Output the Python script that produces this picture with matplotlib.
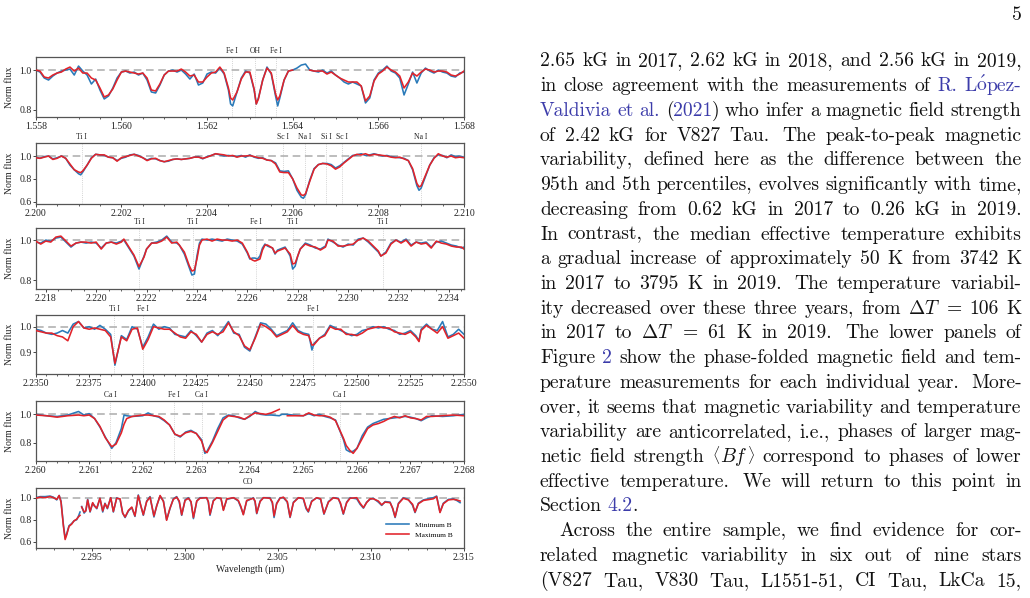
import re
import numpy as np
import matplotlib
matplotlib.use('Agg')
import matplotlib.pyplot as plt
from matplotlib.ticker import MultipleLocator, AutoMinorLocator, FormatStrFormatter
import matplotlib.transforms as mtransforms

nan = np.nan

# ---------------- panel 1 : 1.558 - 1.568 um ----------------
p1_wl = [
    1.5580, 1.5581, 1.5582, 1.5583, 1.5584, 1.5585, 1.5586, 1.5587, 1.5588, 1.5589,
    1.5590, 1.5591, 1.5592, 1.5593, 1.5594, 1.5595, 1.5596, 1.5597, 1.5598, 1.5599,
    1.5600, 1.5601, 1.5602, 1.5603, 1.5604, 1.5605, 1.5606, 1.5607, 1.5608, 1.5609,
    1.5610, 1.5611, 1.5612, 1.5613, 1.5614, 1.5615, 1.5616, 1.5617, 1.5618, 1.5619,
    1.5620, 1.5621, 1.5622, 1.5623, 1.5624, 1.5625, 1.56255, 1.5626, 1.5627, 1.5628,
    1.5629, 1.5630, 1.5631, 1.56315, 1.5632, 1.5633, 1.5634, 1.5635, 1.5636, 1.56365,
    1.5637, 1.5638, 1.5639, 1.5640, 1.5641, 1.5642, 1.5643, 1.5644, 1.5645, 1.5646,
    1.5647, 1.5648, 1.5649, 1.5650, 1.5651, 1.5652, 1.5653, 1.5654, 1.5655, 1.5656,
    1.5657, 1.5658, 1.5659, 1.5660, 1.5661, 1.5662, 1.5663, 1.5664, 1.5665, 1.5666,
    1.5667, 1.5668, 1.5669, 1.5670, 1.5671, 1.5672, 1.5673, 1.5674, 1.5675, 1.5676,
    1.5677, 1.5678, 1.5679, 1.5680]
p1_blue = [
    1.000, 0.990, 0.960, 0.950, 0.970, 0.985, 0.995, 1.000, 1.005, 0.975,
    1.020, 0.995, 0.975, 0.930, 0.955, 0.900, 0.855, 0.870, 0.910, 0.960,
    0.990, 0.995, 0.985, 0.990, 0.975, 0.985, 0.950, 0.890, 0.885, 0.925,
    0.975, 0.995, 1.000, 0.990, 1.000, 0.980, 0.955, 0.980, 0.925, 0.935,
    0.980, 0.990, 0.985, 1.010, 0.980, 0.900, 0.830, 0.820, 0.890, 0.960,
    0.995, 0.985, 0.900, 0.830, 0.860, 0.950, 1.015, 0.980, 0.870, 0.820,
    0.860, 0.950, 0.995, 1.000, 1.010, 1.025, 1.030, 1.000, 0.995, 0.990,
    1.000, 0.985, 0.995, 0.975, 0.960, 0.940, 0.930, 0.940, 0.930, 0.920,
    0.835, 0.860, 0.950, 0.985, 1.000, 1.020, 0.995, 0.985, 0.960, 0.875,
    0.930, 0.990, 0.935, 0.985, 1.010, 0.995, 0.985, 1.000, 0.990, 0.985,
    0.970, 0.965, 0.985, 0.990]
p1_red = [
    1.000, 0.995, 0.965, 0.960, 0.975, 0.985, 0.990, 1.005, 1.015, 0.995,
    1.010, 0.985, 0.985, 0.960, 0.950, 0.910, 0.865, 0.875, 0.905, 0.950,
    0.990, 0.995, 0.990, 0.985, 0.980, 0.985, 0.960, 0.900, 0.895, 0.930,
    0.975, 0.995, 0.995, 0.995, 1.005, 0.990, 0.970, 0.975, 0.940, 0.940,
    0.965, 0.985, 0.990, 1.015, 0.985, 0.910, 0.860, 0.850, 0.890, 0.955,
    0.990, 0.990, 0.905, 0.830, 0.855, 0.950, 1.010, 0.985, 0.880, 0.850,
    0.870, 0.950, 0.995, 1.000, nan, nan, nan, 1.000, 0.995, 0.995,
    0.995, 0.980, 0.990, 0.975, 0.960, 0.950, 0.940, 0.940, 0.940, 0.920,
    0.845, 0.870, 0.945, 0.980, 0.995, 1.015, 1.000, 0.990, 0.970, 0.910,
    0.940, 0.985, 0.970, 0.990, 1.005, 1.000, 0.990, 0.995, 0.995, 0.990,
    0.975, 0.970, 0.980, 0.995]
p1_line_wl = [1.56258, 1.56313, 1.56362]
p1_line_names = ['Fe I', 'OH', 'Fe I']

# ---------------- panel 2 : 2.200 - 2.210 um ----------------
p2_wl = [
    2.2000, 2.2001, 2.2002, 2.2003, 2.2004, 2.2005, 2.2006, 2.2007, 2.2008, 2.2009,
    2.2010, 2.20105, 2.2011, 2.2012, 2.2013, 2.2014, 2.2015, 2.2016, 2.2017, 2.2018,
    2.2019, 2.2020, 2.2021, 2.2022, 2.2023, 2.2024, 2.2025, 2.2026, 2.2027, 2.2028,
    2.2029, 2.2030, 2.2031, 2.2032, 2.2033, 2.2034, 2.2035, 2.2036, 2.2037, 2.2038,
    2.2039, 2.2040, 2.2041, 2.2042, 2.2043, 2.2044, 2.2045, 2.2046, 2.2047, 2.2048,
    2.2049, 2.2050, 2.2051, 2.2052, 2.2053, 2.2054, 2.2055, 2.2056, 2.2057, 2.2058,
    2.2059, 2.2060, 2.2061, 2.2062, 2.20625, 2.2063, 2.2064, 2.2065, 2.2066, 2.2067,
    2.2068, 2.2069, 2.2070, 2.2071, 2.2072, 2.2073, 2.2074, 2.2075, 2.2076, 2.2077,
    2.2078, 2.2079, 2.2080, 2.2081, 2.2082, 2.2083, 2.2084, 2.2085, 2.2086, 2.2087,
    2.2088, 2.2089, 2.20895, 2.2090, 2.2091, 2.2092, 2.2093, 2.2094, 2.2095, 2.2096,
    2.2097, 2.2098, 2.2099, 2.2100]
p2_blue = [
    0.990, 0.980, 0.995, 1.000, 0.975, 0.985, 1.000, 0.980, 0.920, 0.880,
    0.845, 0.835, 0.860, 0.920, 0.985, 1.015, 1.010, 1.005, 0.990, 0.985,
    0.960, 0.980, 0.990, 1.010, 1.015, 1.005, 0.985, 0.965, 0.980, 0.975,
    0.960, 0.950, 0.955, 0.970, 0.975, 0.970, 0.975, 0.980, 0.990, 0.995,
    0.975, 0.995, 1.005, 1.020, 1.010, 1.000, 1.005, 1.000, 0.995, 1.005,
    0.990, 1.010, 0.990, 0.980, 0.985, 0.965, 0.960, 0.940, 0.870, 0.865,
    0.870, 0.800, 0.700, 0.640, 0.630, 0.660, 0.790, 0.890, 0.925, 0.935,
    0.935, 0.925, 0.895, 0.915, 0.945, 0.975, 1.005, 1.010, 1.020, 1.005,
    1.010, 1.020, 1.010, 1.000, 1.005, 0.995, 0.990, 0.985, 0.980, 0.960,
    0.880, 0.740, 0.700, 0.720, 0.820, 0.920, 0.985, 1.010, 1.005, 0.985,
    1.010, 0.995, 1.000, 0.990]
p2_red = [
    0.985, 0.980, 0.990, 1.000, 0.970, 0.980, 1.000, 0.980, 0.930, 0.880,
    0.860, 0.855, 0.870, 0.920, 0.980, 1.015, 1.010, 1.010, 0.990, 0.985,
    0.955, 0.985, 0.995, 1.005, 1.015, 1.000, 0.985, 0.960, 0.975, 0.980,
    0.960, 0.950, 0.960, 0.970, 0.975, 0.970, 0.975, 0.980, 0.990, 0.990,
    0.980, 0.990, 1.005, 1.020, 1.015, 1.010, 1.000, 1.005, 0.990, 1.000,
    1.000, 1.005, 0.995, 0.985, 0.980, 0.965, 0.960, 0.930, 0.860, 0.855,
    0.855, 0.800, 0.720, 0.660, 0.655, 0.670, 0.780, 0.885, 0.925, 0.935,
    0.930, 0.915, 0.885, 0.905, 0.940, 0.970, 1.000, 1.015, 1.010, 1.020,
    1.005, 1.015, 1.010, 1.005, 1.000, 0.990, 0.985, 0.990, 0.975, 0.960,
    0.890, 0.760, 0.730, 0.740, 0.830, 0.920, 0.980, 1.020, 1.000, 0.990,
    1.000, 0.985, 0.990, 0.985]
p2_line_wl = [2.20107, 2.20578, 2.20629, 2.20678, 2.20714, 2.20899]
p2_line_names = ['Ti I', 'Sc I', 'Na I', 'Si I', 'Sc I', 'Na I']

# ---------------- panel 3 : 2.2176 - 2.2346 um ----------------
p3_wl = [
    2.2176, 2.2178, 2.2180, 2.2182, 2.2184, 2.2186, 2.2188, 2.2190, 2.2192, 2.2194,
    2.2196, 2.2198, 2.2200, 2.2202, 2.2204, 2.2206, 2.2208, 2.2210, 2.2211, 2.2213,
    2.2215, 2.2217, 2.2219, 2.2220, 2.2222, 2.2224, 2.2226, 2.2228, 2.2230, 2.2232,
    2.2233, 2.2235, 2.2237, 2.2238, 2.2239, 2.2240, 2.2241, 2.2242, 2.2244, 2.2246,
    2.2248, 2.2250, 2.2252, 2.2254, 2.2256, 2.2258, 2.2260, 2.2261, 2.2262, 2.2263,
    2.2264, 2.2265, 2.2266, 2.2267, 2.2268, 2.2270, 2.2271, 2.2272, 2.2274, 2.2275,
    2.2277, 2.2278, 2.2279, 2.2280, 2.2281, 2.2283, 2.2285, 2.2287, 2.2289, 2.2291,
    2.2292, 2.2294, 2.2296, 2.2298, 2.2300, 2.2302, 2.2304, 2.2306, 2.2308, 2.2310,
    2.2312, 2.2313, 2.2315, 2.2317, 2.2319, 2.2321, 2.2323, 2.2325, 2.2327, 2.2329,
    2.2331, 2.2333, 2.2335, 2.2337, 2.2339, 2.2341, 2.2343, 2.2345, 2.2346]
p3_blue = [
    0.990, 0.985, 1.000, 0.995, 1.010, 1.015, 0.990, 0.965, 0.985, 0.990,
    0.985, 0.990, 0.985, 0.960, 0.985, 0.990, 0.985, 0.995, 1.000, 0.960,
    0.920, 0.855, 0.920, 0.955, 0.985, 0.990, 1.000, 1.020, 0.990, 0.985,
    0.975, 0.930, 0.860, 0.825, 0.830, 0.920, 0.985, 1.005, 1.000, 1.005,
    1.000, 0.995, 1.005, 1.000, 0.995, 0.980, 0.935, 0.905, 0.910, 0.910,
    0.905, 0.920, 0.960, 0.980, 0.970, 0.960, 0.930, 0.950, 0.960, 0.965,
    0.920, 0.855, 0.870, 0.920, 0.955, 0.985, 0.975, 0.960, 0.955, 0.970,
    1.005, 0.990, 0.975, 0.965, 0.980, 0.975, 1.005, 1.010, 0.990, 0.965,
    0.940, 0.920, 0.940, 0.985, 1.000, 0.990, 1.005, 0.975, 0.990, 0.985,
    0.990, 0.965, 0.990, 0.995, 0.985, 0.975, 0.970, 0.960, 0.965]
p3_red = [
    0.995, 0.980, 0.995, 0.990, 1.015, 1.020, 0.995, 0.970, 0.985, 0.990,
    0.990, 0.985, 0.990, 0.955, 0.985, 0.990, 0.980, 0.990, 1.005, 0.965,
    0.925, 0.867, 0.915, 0.955, 0.985, 0.985, 0.995, 1.015, 0.985, 0.990,
    0.975, 0.940, 0.870, 0.845, 0.850, 0.905, 0.975, 1.000, 1.005, 0.995,
    1.005, 1.000, 1.000, 0.995, 1.000, 0.985, 0.940, 0.910, 0.900, 0.895,
    0.900, 0.905, 0.950, 0.975, 0.975, 0.960, 0.935, 0.945, 0.955, 0.960,
    0.930, 0.880, 0.885, 0.920, 0.955, 0.980, 0.970, 0.965, 0.950, 0.965,
    1.000, 0.995, 0.970, 0.970, 0.975, 0.980, 1.000, 1.010, 0.995, 0.970,
    0.945, 0.920, 0.935, 0.980, 1.000, 0.985, 1.000, 0.970, 0.990, 0.980,
    0.985, 0.960, 0.995, 0.985, 0.980, 0.970, 0.965, 0.965, 0.955]
p3_line_wl = [2.22170, 2.22383, 2.22634, 2.22781, 2.23137]
p3_line_names = ['Ti I', 'Ti I', 'Fe I', 'Ti I', 'Ti I']

# ---------------- panel 4 : 2.235 - 2.255 um ----------------
p4_wl = [
    2.23500, 2.23525, 2.23550, 2.23575, 2.23600, 2.23625, 2.23650, 2.23675, 2.23700, 2.23725,
    2.23750, 2.23775, 2.23800, 2.23825, 2.23850, 2.23870, 2.23900, 2.23925, 2.23950, 2.23975,
    2.24000, 2.24025, 2.24050, 2.24075, 2.24100, 2.24125, 2.24150, 2.24175, 2.24200, 2.24225,
    2.24250, 2.24275, 2.24300, 2.24325, 2.24350, 2.24375, 2.24400, 2.24425, 2.24450, 2.24475,
    2.24500, 2.24525, 2.24550, 2.24575, 2.24600, 2.24625, 2.24650, 2.24675, 2.24700, 2.24725,
    2.24750, 2.24775, 2.24790, 2.24800, 2.24825, 2.24850, 2.24875, 2.24900, 2.24925, 2.24950,
    2.24975, 2.25000, 2.25025, 2.25050, 2.25075, 2.25100, 2.25125, 2.25150, 2.25175, 2.25200,
    2.25225, 2.25250, 2.25275, 2.25290, 2.25300, 2.25325, 2.25350, 2.25375, 2.25400, 2.25425,
    2.25450, 2.25475, 2.25500]
p4_blue = [
    0.990, 0.985, 0.975, 0.970, 0.975, 0.985, 0.975, 1.010, 1.020, 0.995,
    1.000, 0.990, 1.005, 0.990, 0.970, 0.850, 0.965, 0.950, 1.000, 0.990,
    0.920, 0.960, 1.010, 0.990, 1.000, 0.995, 0.970, 0.965, 0.960, 0.985,
    0.965, 0.940, 0.975, 0.985, 0.965, 0.990, 1.020, 0.975, 0.970, 0.920,
    0.905, 0.960, 1.015, 1.010, 0.990, 0.965, 0.975, 0.985, 1.015, 0.985,
    0.975, 0.970, 0.909, 0.935, 0.955, 0.970, 1.005, 0.995, 0.985, 0.975,
    0.965, 0.970, 0.985, 0.990, 1.000, 0.995, 1.000, 0.990, 0.985, 0.970,
    0.975, 0.985, 0.965, 0.945, 0.990, 1.010, 0.990, 0.985, 1.020, 0.960,
    0.970, 0.990, 0.970]
p4_red = [
    0.985, 0.980, 0.975, 0.975, 0.965, 0.960, 0.945, 1.000, 1.020, 0.995,
    0.990, 0.995, 0.990, 0.985, 0.960, 0.857, 0.960, 0.945, 0.990, 0.995,
    0.912, 0.950, 1.000, 0.995, 0.990, 0.990, 0.975, 0.960, 0.955, 0.980,
    0.970, 0.940, 0.970, 0.980, 0.970, 0.980, 1.015, 0.980, 0.965, 0.925,
    0.910, 0.955, 1.010, 1.000, 0.985, 0.960, 0.970, 0.980, 1.005, 0.980,
    0.970, 0.965, 0.928, 0.930, 0.955, 0.965, 1.000, 0.990, 0.990, 0.970,
    0.970, 0.965, 0.975, 0.990, 0.995, 1.000, 0.995, 0.995, 0.980, 0.975,
    0.970, 0.980, 0.960, 0.942, 0.985, 1.005, 0.990, 0.975, 1.000, 0.955,
    0.965, 0.975, 0.955]
p4_line_wl = [2.23867, 2.24000, 2.24796]
p4_line_names = ['Ti I', 'Fe I', 'Fe I']

# ---------------- panel 5 : 2.260 - 2.268 um ----------------
p5_wl = [
    2.2600, 2.2602, 2.2604, 2.2606, 2.2608, 2.2609, 2.2610, 2.2611, 2.2612, 2.2613,
    2.26142, 2.2615, 2.2616, 2.26165, 2.2617, 2.2618, 2.2620, 2.2621, 2.2622, 2.2623,
    2.2624, 2.2625, 2.2626, 2.2627, 2.2628, 2.2629, 2.2630, 2.2631, 2.26316, 2.2632,
    2.2633, 2.2634, 2.2635, 2.2636, 2.2637, 2.2638, 2.2639, 2.2640, 2.2641, 2.2642,
    2.2643, 2.2644, 2.26455, 2.2646, 2.2647, 2.2648, 2.2650, 2.2651, 2.2652, 2.2653,
    2.2654, 2.2655, 2.2656, 2.26575, 2.2658, 2.26587, 2.26593, 2.2660, 2.2661, 2.2662,
    2.2663, 2.2664, 2.2665, 2.2666, 2.2667, 2.2668, 2.2669, 2.2670, 2.2671, 2.2672,
    2.2673, 2.2674, 2.2676, 2.2678, 2.2680]
p5_blue = [
    1.000, 0.990, 0.985, 0.995, 1.020, 0.995, 1.005, 0.970, 0.910, 0.840,
    0.760, 0.800, 0.900, 0.995, 0.990, 0.985, 0.990, 1.010, 0.990, 0.980,
    0.955, 0.925, 0.860, 0.840, 0.875, 0.887, 0.865, 0.820, 0.725, 0.740,
    0.810, 0.900, 0.975, 0.995, 0.990, 0.975, 0.965, 0.985, 1.020, 1.000,
    0.995, 0.995, 0.990, 1.000, 1.000, 0.995, 0.990, 1.005, 0.990, 1.000,
    0.985, 0.975, 0.960, 0.820, 0.750, 0.735, 0.740, 0.760, 0.850, 0.910,
    0.935, 0.950, 0.965, 0.970, 0.975, 0.980, 0.985, 0.980, 0.970, 0.955,
    0.975, 0.990, 0.985, 0.990, 1.000]
p5_red = [
    0.995, 0.990, 0.980, 0.990, 0.995, 0.990, 0.995, 0.970, 0.915, 0.835,
    0.772, 0.790, 0.870, 0.930, 0.970, 0.985, 0.995, 0.995, 0.990, 0.985,
    0.960, 0.925, 0.860, 0.845, 0.870, 0.880, 0.865, 0.810, 0.740, 0.730,
    0.800, 0.880, 0.960, 0.990, 0.985, 0.980, 0.965, 0.990, 1.010, 1.005,
    1.000, 1.010, 1.035, nan, 0.990, 0.990, 0.990, 1.010, 0.995, 0.990,
    0.990, 0.980, 0.955, 0.830, 0.780, 0.745, 0.725, 0.760, 0.830, 0.900,
    0.925, 0.935, 0.950, 0.970, 0.985, 0.975, 0.990, 0.975, 0.970, 0.960,
    0.985, 0.985, 0.990, 0.995, 0.990]
p5_line_wl = [2.26139, 2.26259, 2.26310, 2.26568]
p5_line_names = ['Ca I', 'Fe I', 'Ca I', 'Ca I']

# ---------------- panel 6 : 2.292 - 2.315 um (CO) ----------------
p6_wl = [
    2.29200, 2.29223, 2.29250, 2.29277, 2.29295, 2.29313, 2.29326, 2.29336, 2.29349, 2.29358,
    2.29366, 2.29379, 2.29393, 2.29406, 2.29420, 2.29429, 2.29438, 2.29442, 2.29447, 2.29460,
    2.29469, 2.29479, 2.29492, 2.29506, 2.29515, 2.29528, 2.29545, 2.29560, 2.29572, 2.29585,
    2.29603, 2.29617, 2.29635, 2.29653, 2.29667, 2.29680, 2.29698, 2.29716, 2.29733, 2.29751,
    2.29764, 2.29778, 2.29796, 2.29814, 2.29835, 2.29850, 2.29868, 2.29886, 2.29903, 2.29921,
    2.29939, 2.29957, 2.29971, 2.29984, 2.30002, 2.30020, 2.30034, 2.30047, 2.30065, 2.30082,
    2.30118, 2.30127, 2.30136, 2.30154, 2.30172, 2.30195, 2.30208, 2.30226, 2.30262, 2.30288,
    2.30302, 2.30315, 2.30333, 2.30369, 2.30378, 2.30387, 2.30405, 2.30423, 2.30458, 2.30471,
    2.30480, 2.30494, 2.30512, 2.30530, 2.30551, 2.30566, 2.30584, 2.30611, 2.30637, 2.30652,
    2.30664, 2.30682, 2.30709, 2.30730, 2.30748, 2.30772, 2.30798, 2.30825, 2.30837, 2.30852,
    2.30870, 2.30888, 2.30924, 2.30942, 2.30960, 2.30977, 2.30995, 2.31013, 2.31040, 2.31058,
    2.31076, 2.31103, 2.31117, 2.31130, 2.31148, 2.31174, 2.31201, 2.31224, 2.31237, 2.31255,
    2.31282, 2.31318, 2.31335, 2.31353, 2.31371, 2.31389, 2.31416, 2.31443, 2.31461, 2.31479]
p6_blue = [
    1.000, 1.010, 1.010, 1.015, 1.005, 0.980, 1.020, 0.970, 0.750, 0.635,
    0.670, 0.745, 0.765, 0.790, 0.800, 0.830, 0.870, nan, 0.920, 0.860,
    0.880, 0.985, 0.870, 0.950, 0.930, 0.900, 0.995, 0.870, 0.950, 0.900,
    1.000, 0.870, 1.000, 0.985, 0.860, 0.820, 0.880, 0.910, 0.830, 1.025,
    0.930, 0.840, 0.970, 1.010, 0.825, 0.930, 1.015, 0.970, 0.800, 0.900,
    0.990, 1.010, 0.960, 0.840, 0.980, 1.000, 0.960, 0.810, 0.970, 1.000,
    1.000, 0.960, 0.840, 0.975, 1.000, 0.990, 0.890, 0.985, 1.000, 0.970,
    0.910, 0.850, 0.970, 1.000, 0.960, 0.855, 0.970, 1.000, 1.000, 0.950,
    0.820, 0.950, 1.000, 1.000, 0.960, 0.820, 0.960, 1.000, 0.990, 0.900,
    0.870, 0.970, 1.000, 0.985, 0.850, 0.965, 1.000, 0.995, 0.940, 0.850,
    0.960, 1.000, 0.990, 0.940, 0.905, 0.960, 0.985, 0.995, 0.960, 0.930,
    0.965, 0.960, 0.900, 0.820, 0.950, 1.000, 0.985, 0.930, 0.865, 0.950,
    0.980, 0.995, 1.000, 1.015, 0.870, 0.950, 0.985, 0.990, 0.975, 0.955]
p6_red = [
    0.995, 1.005, 1.000, 1.010, 1.000, 0.985, 1.020, 0.960, 0.740, 0.620,
    0.660, 0.740, 0.760, 0.790, 0.805, 0.825, 0.840, nan, 0.915, 0.870,
    0.880, 0.980, 0.875, 0.955, 0.925, 0.905, 0.995, 0.880, 0.945, 0.905,
    1.000, 0.875, 0.995, 0.990, 0.860, 0.825, 0.885, 0.915, 0.835, 1.020,
    0.930, 0.845, 0.965, 1.005, 0.835, 0.925, 1.020, 0.965, 0.795, 0.905,
    0.985, 1.005, 0.970, 0.845, 0.975, 0.995, 0.965, 0.820, 0.970, 0.995,
    1.000, 0.965, 0.850, 0.970, 1.000, 0.995, 0.885, 0.990, 1.000, 0.975,
    0.920, 0.845, 0.975, 0.995, 0.970, 0.860, 0.965, 1.000, 0.995, 0.960,
    0.835, 0.945, 0.995, 1.005, 0.965, 0.825, 0.955, 1.000, 0.995, 0.910,
    0.875, 0.965, 1.000, 0.990, 0.855, 0.960, 1.000, 0.990, 0.950, 0.855,
    0.955, 0.995, 1.000, 0.950, 0.910, 0.955, 0.990, 0.990, 0.970, 0.935,
    0.960, 0.955, 0.905, 0.825, 0.945, 0.995, 0.980, 0.940, 0.870, 0.945,
    0.975, 0.985, 0.990, 1.010, 0.865, 0.945, 0.980, 0.985, 0.980, 0.970]
p6_line_wl = [2.3034]
p6_line_names = ['CO']

# ---------------- text column ----------------
# «...» = link colour, ¦ = piece break inside one word
body_lines = [
    "2.65 kG in 2017, 2.62 kG in 2018, and 2.56 kG in 2019,",
    r"in close agreement with the measurements of «R. L¦$\acute{\mathrm{o}}$¦pez-»",
    "«Valdivia et al.» («2021») who infer a magnetic field strength",
    "of 2.42 kG for V827 Tau.  The peak-to-peak magnetic",
    "variability, defined here as the difference between the",
    "95th and 5th percentiles, evolves significantly with time,",
    "decreasing from 0.62 kG in 2017 to 0.26 kG in 2019.",
    "In contrast, the median effective temperature exhibits",
    "a gradual increase of approximately 50 K from 3742 K",
    "in 2017 to 3795 K in 2019.  The temperature variabil-",
    r"ity decreased over these three years, from $\Delta{T}$ = 106 K",
    r"in 2017 to $\Delta{T}$ = 61 K in 2019.  The lower panels of",
    "Figure «2» show the phase-folded magnetic field and tem-",
    "perature measurements for each individual year.  More-",
    "over, it seems that magnetic variability and temperature",
    "variability are anticorrelated, i.e., phases of larger mag-",
    r"netic field strength $\langle$¦$Bf$¦$\rangle$ correspond to phases of lower",
    "effective temperature.  We will return to this point in",
    "Section «4.2».",
    "Across the entire sample, we find evidence for cor-",
    "related magnetic variability in six out of nine stars",
    "(V827 Tau, V830 Tau, L1551-51, CI Tau, LkCa 15,",
]
body_justify = [True] * 18 + [False] + [True] * 3
body_indent = [0.0] * 19 + [19.0] + [0.0, 0.0]
page_number = "5"

# ================= drawing =================
plt.rcParams['font.family'] = ['Liberation Serif', 'DejaVu Serif']
plt.rcParams['mathtext.fontset'] = 'cm'
plt.rcParams['axes.unicode_minus'] = False

W, H = 1030, 598
fig = plt.figure(figsize=(W / 100, H / 100), dpi=100)
fig.patch.set_facecolor('white')

BLUE = '#2a7ab9'
RED = '#e2232a'
AX_L, AX_R = 35.7, 464.0

panels = [
    dict(wl=p1_wl, b=p1_blue, r=p1_red, lw=p1_line_wl, ln=p1_line_names,
         xlim=(1.558, 1.568), ylim=(0.763, 1.067), xmaj=0.002, fmt='%.3f',
         yt=[0.8, 1.0], top=56.7, bot=117.3, vl=True),
    dict(wl=p2_wl, b=p2_blue, r=p2_red, lw=p2_line_wl, ln=p2_line_names,
         xlim=(2.200, 2.210), ylim=(0.58, 1.114), xmaj=0.002, fmt='%.3f',
         yt=[0.6, 0.8, 1.0], top=143.0, bot=204.0, vl=True),
    dict(wl=p3_wl, b=p3_blue, r=p3_red, lw=p3_line_wl, ln=p3_line_names,
         xlim=(2.2176, 2.2346), ylim=(0.755, 1.059), xmaj=0.002, fmt='%.3f',
         yt=[0.8, 1.0], top=228.3, bot=289.0, vl=True),
    dict(wl=p4_wl, b=p4_blue, r=p4_red, lw=p4_line_wl, ln=p4_line_names,
         xlim=(2.235, 2.255), ylim=(0.8155, 1.0455), xmaj=0.0025, fmt='%.4f',
         yt=[0.9, 1.0], top=315.0, bot=374.0, vl=True),
    dict(wl=p5_wl, b=p5_blue, r=p5_red, lw=p5_line_wl, ln=p5_line_names,
         xlim=(2.260, 2.268), ylim=(0.671, 1.096), xmaj=0.001, fmt='%.3f',
         yt=[0.8, 1.0], top=400.7, bot=461.0, vl=True),
    dict(wl=p6_wl, b=p6_blue, r=p6_red, lw=p6_line_wl, ln=p6_line_names,
         xlim=(2.292, 2.315), ylim=(0.543, 1.091), xmaj=0.005, fmt='%.3f',
         yt=[0.6, 0.8, 1.0], top=487.7, bot=548.0, vl=False),
]

axes = []
for p in panels:
    rect = [AX_L / W, 1 - p['bot'] / H, (AX_R - AX_L) / W, (p['bot'] - p['top']) / H]
    ax = fig.add_axes(rect)
    axes.append(ax)
    ax.axhline(1.0, color='#ababab', lw=1.1, ls=(0, (5, 3)), zorder=1)
    if p['vl']:
        for x in p['lw']:
            ax.axvline(x, color='#d4d4d4', lw=0.7, ls=(0, (1, 1.2)), zorder=0)
    ax.plot(p['wl'], p['b'], color=BLUE, lw=1.15, zorder=2, label='Minimum B')
    ax.plot(p['wl'], p['r'], color=RED, lw=1.15, zorder=3, label='Maximum B')
    ax.set_xlim(*p['xlim'])
    ax.set_ylim(*p['ylim'])
    ax.xaxis.set_major_locator(MultipleLocator(p['xmaj']))
    ax.xaxis.set_minor_locator(AutoMinorLocator())
    ax.xaxis.set_major_formatter(FormatStrFormatter(p['fmt']))
    ax.set_yticks(p['yt'])
    ax.yaxis.set_major_formatter(FormatStrFormatter('%.1f'))
    ax.tick_params(which='both', direction='out', top=False, right=False,
                   labelsize=7, colors='#444444', labelcolor='#222222')
    ax.tick_params(which='major', length=2.3, width=0.7)
    ax.tick_params(which='minor', length=1.3, width=0.6)
    ax.tick_params(axis='x', pad=1.2)
    ax.tick_params(axis='y', pad=0.8)
    for sp in ax.spines.values():
        sp.set_color('#555555')
        sp.set_linewidth(0.9)
    ax.set_ylabel('Norm flux', fontsize=7, color='#222222')
    ax.yaxis.set_label_coords(-0.05, 0.5)
    trans = mtransforms.blended_transform_factory(ax.transData, ax.transAxes)
    for x, name in zip(p['lw'], p['ln']):
        ax.text(x, 1.1, name, transform=trans, ha='center', va='center',
                fontsize=5.5, color='#222222')

ax6 = axes[-1]
ax6.set_xlabel('Wavelength (μm)', fontsize=7, color='#222222', labelpad=2)
ax6.legend(loc='lower right', bbox_to_anchor=(0.99, 0.06), frameon=False,
           fontsize=5.3, handlelength=3.2, handletextpad=0.8, labelspacing=0.5)

# ---- justified text column ----
FS = 14.1
FS_PX = FS * 100 / 72
TFAM = ['cmr10', 'DejaVu Serif']
LINK = '#3c3caa'
TXT = '#111111'
TEXT_L, TEXT_R = 540.0, 1021.5
BASE0, LEAD = 66.5, 24.72
PIECE_GAP = -0.6
SPACE = 0.30
piece_scale = {r'$\langle$': 0.8, r'$\rangle$': 0.8}
piece_rise = {r'$\langle$': 1.2, r'$\rangle$': 1.2}
renderer = fig.canvas.get_renderer()


def text_w(s, size):
    t = fig.text(0, 0, s, fontsize=size, family=TFAM)
    w = t.get_window_extent(renderer=renderer).width
    t.remove()
    return w


def parse(line):
    toks = re.split(r'( +)', line)
    words, weights = [], []
    blue = False
    pending = 1.0
    for tok in toks:
        if tok == '':
            continue
        if tok.startswith(' '):
            pending = 1.0 if len(tok) == 1 else 1.4
            continue
        pieces = []
        for part in re.split(r'([«»¦])', tok):
            if part == '«':
                blue = True
            elif part == '»':
                blue = False
            elif part == '¦':
                continue
            elif part:
                pieces.append((part, blue))
        words.append(pieces)
        weights.append(pending)
        pending = 1.0
    return words, weights[1:]


for i, line in enumerate(body_lines):
    words, gw = parse(line)
    y = BASE0 + i * LEAD
    x0 = TEXT_L + body_indent[i]
    widths = [[text_w(s, FS * piece_scale.get(s, 1.0)) for s, _ in w] for w in words]
    wtot = [sum(ws) + PIECE_GAP * (len(ws) - 1) for ws in widths]
    if body_justify[i] and len(words) > 1:
        free = TEXT_R - x0 - sum(wtot)
        unit = free / sum(gw)
        gaps = [g * unit for g in gw]
    else:
        gaps = [FS_PX * SPACE * g for g in gw]
    x = x0
    for k, (w, ws) in enumerate(zip(words, widths)):
        px = x
        for (s, b), pw in zip(w, ws):
            yy = y - piece_rise.get(s, 0.0)
            fig.text(px / W, 1 - yy / H, s, fontsize=FS * piece_scale.get(s, 1.0),
                     family=TFAM, color=LINK if b else TXT, ha='left', va='baseline')
            px += pw + PIECE_GAP
        x += wtot[k] + (gaps[k] if k < len(gaps) else 0)

fig.text(TEXT_R / W, 1 - 20.0 / H, page_number, fontsize=FS, family=TFAM,
         color=TXT, ha='right', va='baseline')

fig.savefig('out.png', dpi=100)
